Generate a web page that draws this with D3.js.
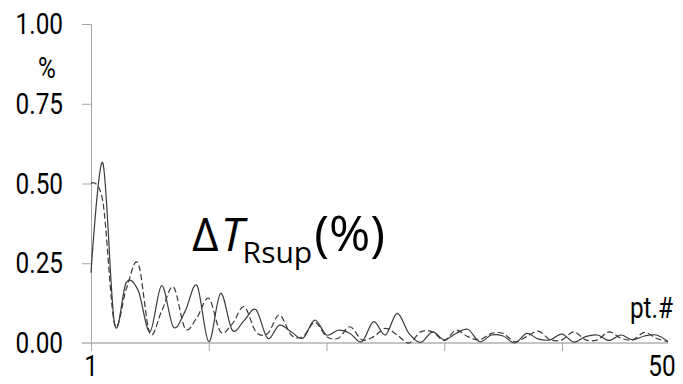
<!DOCTYPE html>
<html>
<head>
<meta charset="utf-8">
<script src="https://cdn.jsdelivr.net/npm/d3@7"></script>
<style>
  html, body { margin: 0; padding: 0; background: #fff; }
  svg { display: block; }
</style>
</head>
<body>
<div id="chart"></div>
<script>
// Point numbers (x categories)
const points = d3.range(1, 51);
// Solid series (% values)
const solidValues = [
  0.22, 0.565, 0.06, 0.19, 0.165, 0.035, 0.18, 0.05, 0.10, 0.18,
  0.004, 0.155, 0.04, 0.07, 0.105, 0.015, 0.056, 0.035, 0.015, 0.072,
  0.025, 0.04, 0.03, 0.004, 0.067, 0.025, 0.093, 0.03, 0.002, 0.035,
  0.01, 0.03, 0.043, 0.004, 0.025, 0.022, 0.0, 0.03, 0.012, 0.01,
  0.028, 0.003, 0.02, 0.025, 0.008, 0.025, 0.01, 0.022, 0.025, 0.005
];
// Dashed series (% values)
const dashedValues = [
  0.50, 0.445, 0.06, 0.17, 0.25, 0.03, 0.10, 0.176, 0.045, 0.08,
  0.14, 0.035, 0.06, 0.114, 0.035, 0.03, 0.088, 0.025, 0.02, 0.065,
  0.02, 0.015, 0.051, 0.01, 0.02, 0.046, 0.025, 0.0, 0.035, 0.035,
  0.008, 0.04, 0.02, 0.01, 0.03, 0.03, 0.004, 0.02, 0.037, 0.01,
  0.01, 0.035, 0.01, 0.01, 0.035, 0.015, 0.01, 0.033, 0.015, 0.004
];
// Tick definitions
const yTicks = [0, 0.25, 0.5, 0.75, 1.0];
const yTickLabels = ["0.00", "0.25", "0.50", "0.75", "1.00"];
const xTicks = [1, 11, 21, 31, 41];
const xEndTicks = [1, 50];
const xEndLabels = ["1", "50"];
const yUnitLabel = "%";
const xUnitLabel = "pt.#";

const W = 683, H = 384;
const svg = d3.select("#chart").append("svg")
  .attr("width", W).attr("height", H);

const x = d3.scaleLinear().domain([1, 50]).range([91, 668]);
const y = d3.scaleLinear().domain([0, 1]).range([343, 24]);

const tickFont = "Roboto, 'DejaVu Sans', sans-serif";
const tickSize = 29;
const squeeze = 0.84;

// helper for condensed text
function label(px, py, txt, anchor) {
  svg.append("text")
    .attr("transform", `translate(${px},${py}) scale(${squeeze},1)`)
    .attr("text-anchor", anchor)
    .attr("font-family", tickFont).attr("font-size", tickSize)
    .attr("fill", "#000").text(txt);
}

// Y axis
const yAxis = d3.axisLeft(y).tickValues(yTicks).tickSize(9).tickFormat("");
const gy = svg.append("g").attr("transform", "translate(91,0)").call(yAxis);
gy.select(".domain").attr("stroke", "#a6a6a6").attr("stroke-width", 1);
gy.selectAll(".tick line").attr("stroke", "#a6a6a6").attr("stroke-width", 1);
yTicks.forEach((t, i) => label(63, y(t) + 10, yTickLabels[i], "end"));

// X axis
const xAxis = d3.axisBottom(x).tickValues(xTicks).tickSize(8).tickFormat("");
const gx = svg.append("g").attr("transform", "translate(0,343)").call(xAxis);
gx.select(".domain").attr("stroke", "#c4c4c4").attr("stroke-width", 2)
  .attr("d", `M82,0H668`);
gx.selectAll(".tick line").attr("stroke", "#a6a6a6").attr("stroke-width", 1);

// x end labels
label(x(xEndTicks[0]), 376, xEndLabels[0], "middle");
label(x(xEndTicks[1]) - 6, 376, xEndLabels[1], "middle");

// unit labels
label(47, 78, yUnitLabel, "middle");
label(673, 318, xUnitLabel, "end");

// Lines
const line = d3.line()
  .x((d, i) => x(points[i]))
  .y(d => y(d))
  .curve(d3.curveCardinal.tension(0));

svg.append("path").datum(dashedValues)
  .attr("d", line).attr("fill", "none")
  .attr("stroke", "#3a3a3a").attr("stroke-width", 1.2)
  .attr("stroke-dasharray", "6,3");

svg.append("path").datum(solidValues)
  .attr("d", line).attr("fill", "none")
  .attr("stroke", "#3a3a3a").attr("stroke-width", 1.2);

// Big label
const big = svg.append("text").attr("x", 192).attr("y", 251)
  .attr("font-family", "'Open Sans', 'Noto Sans', sans-serif")
  .attr("font-size", 46).attr("fill", "#000");
big.append("tspan").text("Δ");
big.append("tspan").attr("font-style", "italic").attr("dx", 2).text("T");
big.append("tspan").attr("font-size", 30).attr("dy", 12).attr("dx", -1).text("Rsup");
big.append("tspan").attr("font-size", 50).attr("dy", -12).attr("dx", 2).text("(%)");
</script>
</body>
</html>
